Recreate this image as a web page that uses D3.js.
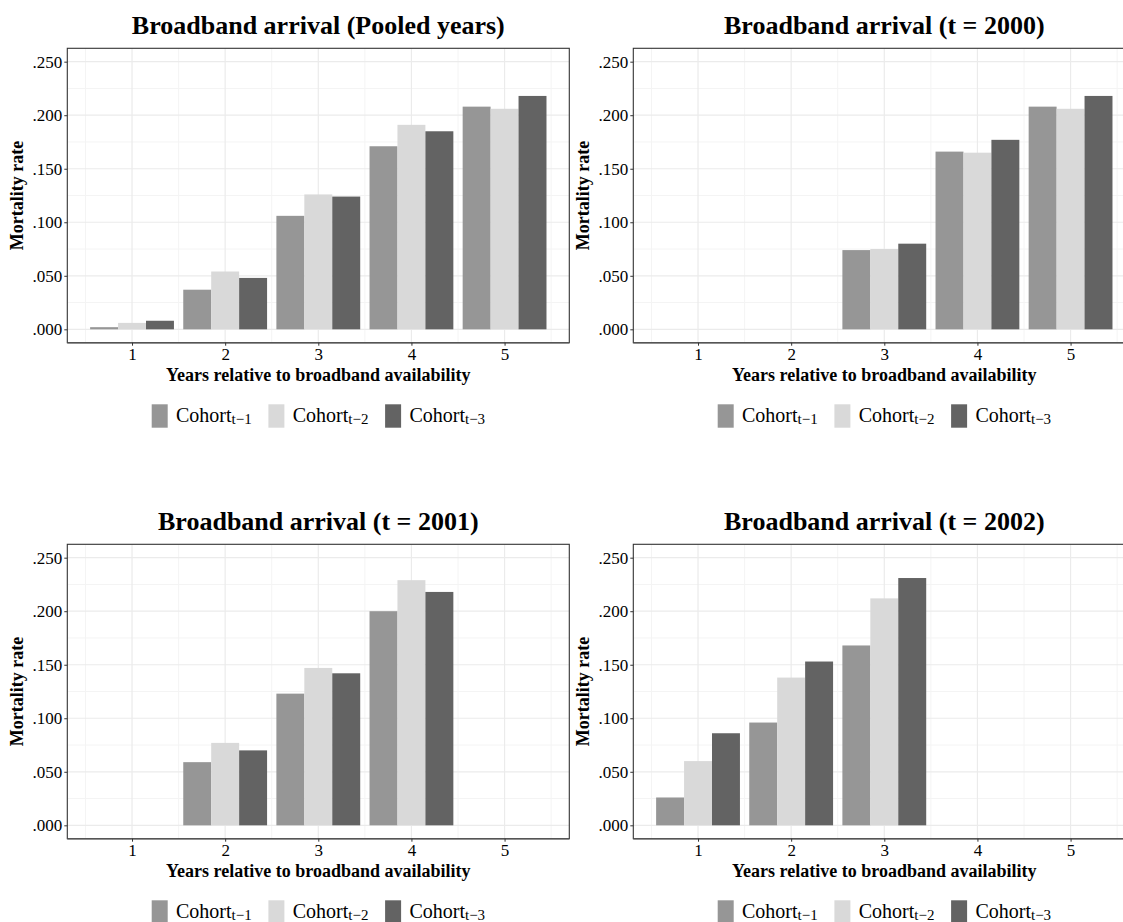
<!DOCTYPE html>
<html>
<head>
<meta charset="utf-8">
<script src="https://cdn.jsdelivr.net/npm/d3@7"></script>
<style>
  html, body { margin: 0; padding: 0; background: #ffffff; }
  svg { display: block; }
  text { font-family: "Liberation Serif", "Times New Roman", serif; fill: #000; }
</style>
</head>
<body>
<div id="chart"></div>
<script>
// Years relative to broadband availability
const years = [1, 2, 3, 4, 5];
const yTickValues = [0, 0.05, 0.10, 0.15, 0.20, 0.25];
const cohortLabels = ["t\u22121", "t\u22122", "t\u22123"];
const cohortColors = ["#969696", "#d9d9d9", "#636363"];
const panelTitles = [
  "Broadband arrival (Pooled years)",
  "Broadband arrival (t = 2000)",
  "Broadband arrival (t = 2001)",
  "Broadband arrival (t = 2002)"
];

// Mortality rate by cohort (null = no observation)
const pooledT1 = [0.002, 0.037, 0.106, 0.171, 0.208];
const pooledT2 = [0.006, 0.054, 0.126, 0.191, 0.206];
const pooledT3 = [0.008, 0.048, 0.124, 0.185, 0.218];

const y2000T1 = [null, null, 0.074, 0.166, 0.208];
const y2000T2 = [null, null, 0.075, 0.165, 0.206];
const y2000T3 = [null, null, 0.080, 0.177, 0.218];

const y2001T1 = [null, 0.059, 0.123, 0.200, null];
const y2001T2 = [null, 0.077, 0.147, 0.229, null];
const y2001T3 = [null, 0.070, 0.142, 0.218, null];

const y2002T1 = [0.026, 0.096, 0.168, null, null];
const y2002T2 = [0.060, 0.138, 0.212, null, null];
const y2002T3 = [0.086, 0.153, 0.231, null, null];

const panelSeries = [
  [pooledT1, pooledT2, pooledT3],
  [y2000T1, y2000T2, y2000T3],
  [y2001T1, y2001T2, y2001T3],
  [y2002T1, y2002T2, y2002T3]
];

const W = 1123, H = 922;
const svg = d3.select("#chart").append("svg")
  .attr("width", W).attr("height", H)
  .attr("viewBox", `0 0 ${W} ${H}`);

const panelW = 502, panelH = 294.4;
const origins = [[67.3, 48.3], [633.3, 48.3], [67.3, 544.3], [633.3, 544.3]];

const dodge = 0.9;
const barW = dodge / 3;
const fmt = v => d3.format(".3f")(v).replace(/^0/, "");

panelSeries.forEach((series, pi) => {
  const [ox, oy] = origins[pi];
  const g = svg.append("g").attr("transform", `translate(${ox},${oy})`);

  const x = d3.scaleLinear().domain([0.305, 5.695]).range([0, panelW]);
  const y = d3.scaleLinear().domain([-0.0125, 0.2625]).range([panelH, 0]);

  const clipId = "clip" + pi;
  g.append("clipPath").attr("id", clipId)
    .append("rect").attr("width", panelW).attr("height", panelH);

  const grid = g.append("g").attr("clip-path", `url(#${clipId})`);
  // minor grid
  const minorX = d3.range(0.5, 6, 1);
  const minorY = d3.range(0.025, 0.26, 0.05);
  grid.selectAll(".mx").data(minorX).join("line")
    .attr("x1", d => x(d)).attr("x2", d => x(d))
    .attr("y1", 0).attr("y2", panelH)
    .attr("stroke", "#f4f4f4").attr("stroke-width", 1);
  grid.selectAll(".my").data(minorY).join("line")
    .attr("x1", 0).attr("x2", panelW)
    .attr("y1", d => y(d)).attr("y2", d => y(d))
    .attr("stroke", "#f4f4f4").attr("stroke-width", 1);
  // major grid
  grid.selectAll(".Mx").data(years).join("line")
    .attr("x1", d => x(d)).attr("x2", d => x(d))
    .attr("y1", 0).attr("y2", panelH)
    .attr("stroke", "#ebebeb").attr("stroke-width", 1.2);
  grid.selectAll(".My").data(yTickValues).join("line")
    .attr("x1", 0).attr("x2", panelW)
    .attr("y1", d => y(d)).attr("y2", d => y(d))
    .attr("stroke", "#ebebeb").attr("stroke-width", 1.2);

  // bars
  series.forEach((vals, si) => {
    const pts = years.map((yr, i) => ({ yr, v: vals[i] })).filter(d => d.v !== null);
    grid.selectAll(".b" + si).data(pts).join("rect")
      .attr("x", d => x(d.yr - dodge / 2 + si * barW))
      .attr("width", d => x(d.yr - dodge / 2 + (si + 1) * barW) - x(d.yr - dodge / 2 + si * barW))
      .attr("y", d => y(d.v))
      .attr("height", d => y(0) - y(d.v))
      .attr("fill", cohortColors[si]);
  });

  // panel border
  g.append("rect").attr("width", panelW).attr("height", panelH)
    .attr("fill", "none").attr("stroke", "#333333").attr("stroke-width", 1.1);
  g.append("line").attr("x1", 0).attr("x2", panelW)
    .attr("y1", panelH).attr("y2", panelH)
    .attr("stroke", "#555555").attr("stroke-width", 1.5);

  // y axis
  const yAxis = d3.axisLeft(y).tickValues(yTickValues).tickFormat(fmt)
    .tickSize(3).tickPadding(2);
  const ya = g.append("g").call(yAxis);
  ya.select(".domain").remove();
  ya.selectAll(".tick line").attr("stroke", "#333333");
  ya.selectAll(".tick text").attr("font-size", 17).attr("fill", "#1a1a1a")
    .attr("font-family", "Liberation Serif, serif");

  // x axis
  const xAxis = d3.axisBottom(x).tickValues(years).tickFormat(d3.format("d"))
    .tickSize(3).tickPadding(2);
  const xa = g.append("g").attr("transform", `translate(0,${panelH})`).call(xAxis);
  xa.select(".domain").remove();
  xa.selectAll(".tick line").attr("stroke", "#333333");
  xa.selectAll(".tick text").attr("font-size", 17).attr("fill", "#1a1a1a")
    .attr("font-family", "Liberation Serif, serif");

  // titles
  g.append("text").attr("x", panelW / 2).attr("y", -14.3)
    .attr("text-anchor", "middle").attr("font-size", 26).attr("font-weight", "bold")
    .text(panelTitles[pi]);
  g.append("text").attr("x", panelW / 2).attr("y", panelH + 38.5)
    .attr("text-anchor", "middle").attr("font-size", 18).attr("font-weight", "bold")
    .text("Years relative to broadband availability");
  g.append("text")
    .attr("transform", `translate(${-44.3},${panelH / 2}) rotate(-90)`)
    .attr("text-anchor", "middle").attr("font-size", 18).attr("font-weight", "bold")
    .text("Mortality rate");

  // legend
  const legStart = panelW / 2 - 166.6;
  const leg = g.append("g").attr("transform", `translate(${legStart},${panelH + 61.6})`);
  cohortLabels.forEach((lab, i) => {
    const it = leg.append("g").attr("transform", `translate(${i * 116.7},0)`);
    it.append("rect").attr("width", 16).attr("height", 23.4).attr("fill", cohortColors[i]);
    const t = it.append("text").attr("x", 24.3).attr("y", 17.2).attr("font-size", 20);
    t.append("tspan").text("Cohort");
    t.append("tspan").attr("font-size", 15).attr("dy", 3).text(lab);
  });
});
</script>
</body>
</html>
